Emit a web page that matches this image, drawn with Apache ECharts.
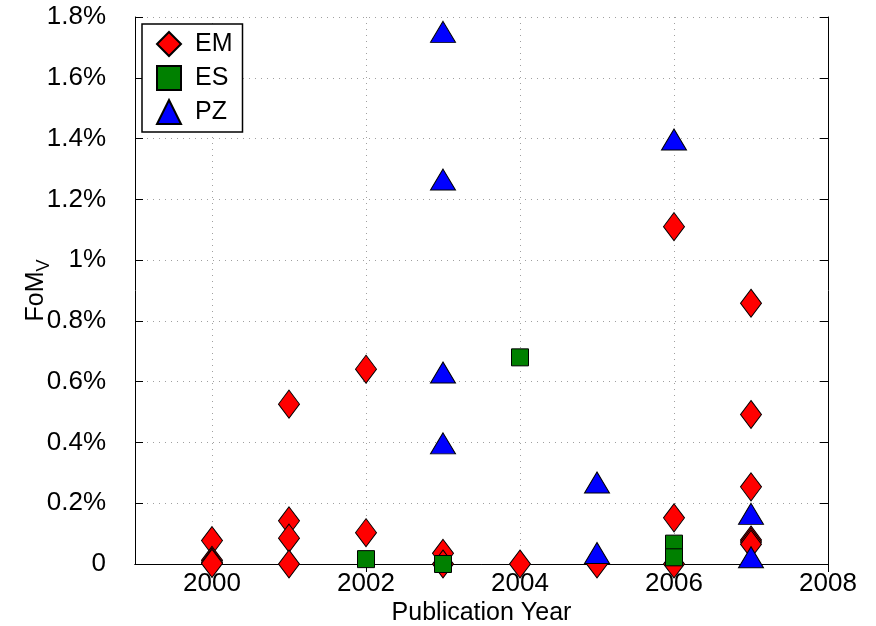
<!DOCTYPE html>
<html>
<head>
<meta charset="utf-8">
<script src="https://cdn.jsdelivr.net/npm/echarts@6/dist/echarts.min.js"></script>
<style>
  html, body { margin: 0; padding: 0; background: #fff; }
  #chart { width: 876px; height: 626px; }
</style>
</head>
<body>
<div id="chart"></div>
<script>
// data (FoM_V in percent)
const emYears = [2000, 2000, 2000, 2000, 2001, 2001, 2001, 2001, 2002, 2002, 2003, 2003, 2004, 2005, 2006, 2006, 2006, 2007, 2007, 2007, 2007, 2007, 2007]
const emValues = [0.077, 0.012, 0.006, 0.002, 0.526, 0.142, 0.085, 0.000, 0.641, 0.103, 0.035, 0.000, 0.000, 0.000, 1.110, 0.152, 0.000, 0.858, 0.492, 0.254, 0.079, 0.072, 0.065]

const esYears = [2002, 2003, 2004, 2006, 2006]
const esValues = [0.016, 0.000, 0.680, 0.067, 0.022]

const pzYears = [2003, 2003, 2003, 2003, 2005, 2005, 2006, 2007, 2007]
const pzValues = [1.751, 1.265, 0.630, 0.397, 0.268, 0.036, 1.397, 0.165, 0.022]

const xTicks = [2000, 2002, 2004, 2006, 2008]

const pairs = (xs, ys) => xs.map((x, i) => [x, ys[i]])

const font = 'Liberation Sans, Arial, Helvetica, sans-serif'
const gridDots = { color: '#a0a0a0', width: 1, type: [1, 5] }

const chart = echarts.init(document.getElementById('chart'))

const option = {
  animation: false,
  textStyle: { fontFamily: font, color: '#000' },
  grid: { left: 135, right: 48, top: 17, bottom: 62, outerBoundsMode: 'none', containLabel: false },
  legend: {
    left: 142,
    top: 24,
    orient: 'vertical',
    backgroundColor: '#fff',
    borderColor: '#000',
    borderWidth: 1.5,
    borderRadius: 0,
    padding: [7, 10, 7, 14],
    itemGap: 8,
    itemWidth: 24,
    itemHeight: 24,
    textStyle: { fontSize: 25, color: '#000', fontFamily: font, padding: [0, 0, 0, 9] },
    data: ['EM', 'ES', 'PZ']
  },
  xAxis: [
    {
      type: 'value',
      min: 1999,
      max: 2008,
      name: 'Publication Year',
      nameLocation: 'middle',
      nameGap: 37,
      nameMoveOverlap: false,
      nameTextStyle: { fontSize: 25, color: '#000' },
      axisLine: { lineStyle: { color: '#000', width: 1 } },
      axisTick: { inside: true, length: 8, lineStyle: { color: '#000' }, customValues: xTicks },
      axisLabel: { fontSize: 26, color: '#000', margin: 7, customValues: xTicks, formatter: v => String(v) },
      splitLine: { show: true, lineStyle: gridDots }
    },
    {
      type: 'value',
      position: 'top',
      min: 1999,
      max: 2008,
      axisLine: { show: true, lineStyle: { color: '#000', width: 1 } },
      axisTick: { inside: true, length: 8, lineStyle: { color: '#000' }, customValues: xTicks },
      axisLabel: { show: false },
      splitLine: { show: false }
    }
  ],
  yAxis: [
    {
      type: 'value',
      min: 0,
      max: 1.8,
      interval: 0.2,
      name: '{a|FoM}{s|V}',
      nameLocation: 'middle',
      nameRotate: 90,
      nameGap: 82,
      nameMoveOverlap: false,
      nameTextStyle: {
        rich: {
          a: { fontSize: 25, color: '#000', fontFamily: font },
          s: { fontSize: 18, color: '#000', fontFamily: font, verticalAlign: 'bottom', padding: [16, 0, 0, 0] }
        }
      },
      axisLine: { show: true, lineStyle: { color: '#000', width: 1 } },
      axisTick: { inside: true, length: 8, lineStyle: { color: '#000' } },
      axisLabel: {
        fontSize: 26,
        color: '#000',
        margin: 29,
        formatter: v => (v === 0 ? '0' : parseFloat(v.toFixed(1)) + '%')
      },
      splitLine: { show: true, lineStyle: gridDots }
    },
    {
      type: 'value',
      position: 'right',
      min: 0,
      max: 1.8,
      interval: 0.2,
      axisLine: { show: true, lineStyle: { color: '#000', width: 1 } },
      axisTick: { inside: true, length: 8, lineStyle: { color: '#000' } },
      axisLabel: { show: false },
      splitLine: { show: false }
    }
  ],
  series: [
    {
      name: 'EM',
      type: 'scatter',
      symbol: 'diamond',
      symbolSize: [21, 28],
      itemStyle: { color: '#ff0000', borderColor: '#000', borderWidth: 1, opacity: 1 },
      data: pairs(emYears, emValues)
    },
    {
      name: 'ES',
      type: 'scatter',
      symbol: 'rect',
      symbolSize: [17, 17],
      itemStyle: { color: '#008000', borderColor: '#000', borderWidth: 1, opacity: 1 },
      data: pairs(esYears, esValues)
    },
    {
      name: 'PZ',
      type: 'scatter',
      symbol: 'triangle',
      symbolSize: [25, 21],
      itemStyle: { color: '#0000ff', borderColor: '#000', borderWidth: 1, opacity: 1 },
      data: pairs(pzYears, pzValues)
    }
  ]
}

chart.setOption(option)
</script>
</body>
</html>
